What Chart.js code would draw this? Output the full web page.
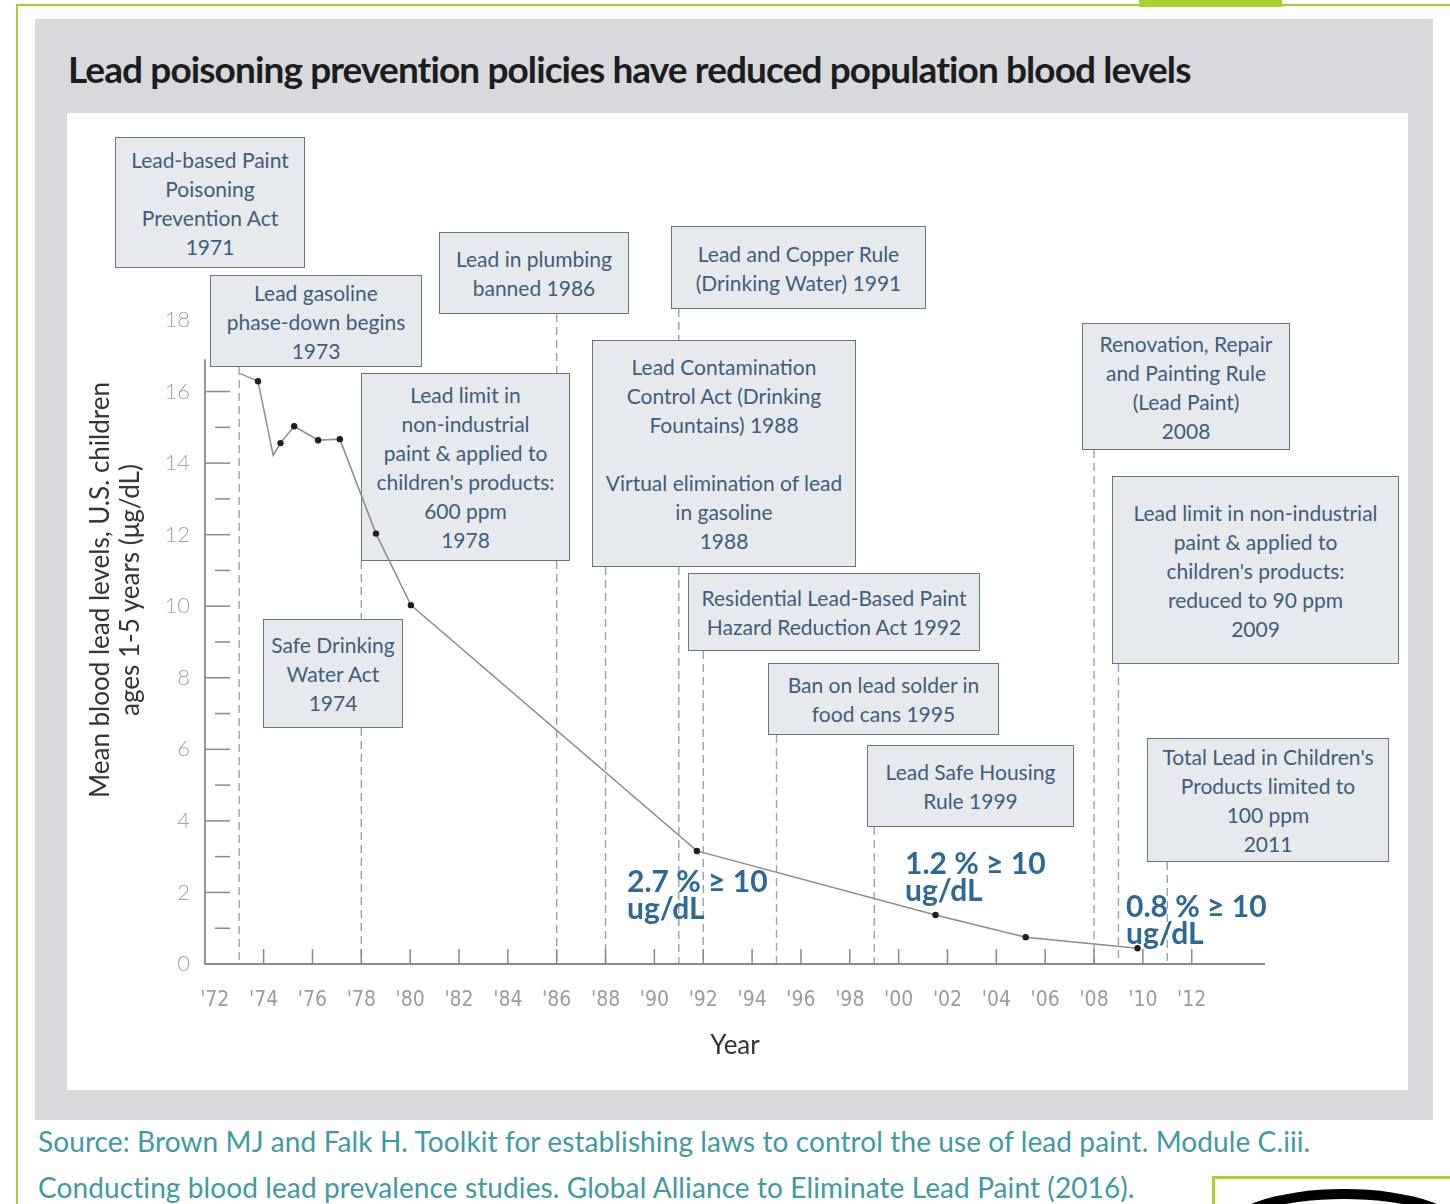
<!DOCTYPE html>
<html>
<head>
<meta charset="utf-8">
<script src="https://cdn.jsdelivr.net/npm/chart.js@4.4.1/dist/chart.umd.min.js"></script>
<style>
  body { margin: 0; width: 1450px; height: 1204px; position: relative; overflow: hidden; background: #fff; font-family: Lato, "Open Sans", sans-serif; }
  .abs { position: absolute; }
  .frame-left { left: 16px; top: 4px; width: 2px; height: 1200px; background: #a8d12e; }
  .frame-top { left: 16px; top: 4px; width: 1434px; height: 2px; background: #a8d12e; }
  .tab { left: 1139px; top: 0; width: 143px; height: 7px; background: #a8d12e; }
  .panel { left: 35px; top: 19px; width: 1398px; height: 1101px; background: #d8d9dc; }
  .plot { left: 67px; top: 113px; width: 1341px; height: 977px; background: #fff; }
  .title { left: 68px; top: 47px; font-size: 37px; line-height: 44px; font-weight: 700; color: #1d1d1f; white-space: nowrap; letter-spacing: -0.9px; }
  .ytitle { left: 114px; top: 590px; transform: translate(-50%, -50%) rotate(-90deg); font-size: 26px; line-height: 30px; color: #333; text-align: center; white-space: nowrap; z-index: 3; }
  .box { position: absolute; box-sizing: border-box; background: #e6e9ee; border: 1.5px solid #6d757e; color: #3f5d7c; font-size: 21px; line-height: 29px; text-align: center; display: flex; flex-direction: column; justify-content: center; white-space: nowrap; z-index: 1; }
  .note { position: absolute; font-size: 30px; line-height: 27px; font-weight: 700; color: #2c6996; white-space: nowrap; z-index: 3; }
  .source { left: 38px; top: 1118px; font-size: 28px; line-height: 46px; color: #3e9aa3; white-space: nowrap; letter-spacing: 0.1px; }
  #chart { position: absolute; left: 0; top: 0; z-index: 2; }
  .logo { left: 1212px; top: 1176px; width: 250px; height: 40px; border-top: 3px solid #a8d12e; border-left: 3px solid #a8d12e; background: #fff; overflow: hidden; z-index: 3; }
  .eye { left: 4px; top: 10px; width: 230px; height: 70px; border: 10px solid #000; border-radius: 50%; }
</style>
</head>
<body>
<div class="abs frame-left"></div>
<div class="abs frame-top"></div>
<div class="abs tab"></div>
<div class="abs panel"></div>
<div class="abs plot"></div>
<div class="abs title">Lead poisoning prevention policies have reduced population blood levels</div>
<div class="abs ytitle">Mean blood lead levels, U.S. children<br>ages 1-5 years (μg/dL)</div>
<div class="abs source">Source: Brown MJ and Falk H. Toolkit for establishing laws to control the use of lead paint. Module C.iii.<br>Conducting blood lead prevalence studies. Global Alliance to Eliminate Lead Paint (2016).</div>
<div class="abs logo"><div class="abs eye"></div></div>
<canvas id="chart" width="1450" height="1204"></canvas>
<script>
// survey means
var years = [1973.05, 1973.77, 1974.39, 1974.69, 1975.25, 1976.23, 1977.12, 1978.6, 1980.03, 1991.74, 2001.51, 2005.2, 2009.78];
var bloodLead = [16.5, 16.29, 14.22, 14.56, 15.03, 14.64, 14.67, 12.03, 10.03, 3.16, 1.37, 0.75, 0.44];
var surveyPoint = [false, true, false, true, true, true, true, true, true, true, true, true, true];
var tickYears = [1972, 1974, 1976, 1978, 1980, 1982, 1984, 1986, 1988, 1990, 1992, 1994, 1996, 1998, 2000, 2002, 2004, 2006, 2008, 2010, 2012];

// policies
var policyYears = [1971, 1973, 1986, 1991, 1978, 1988, 2008, 2009, 1992, 1974, 1995, 1999, 2011];
var policyText = [
  ["Lead-based Paint", "Poisoning", "Prevention Act", "1971"],
  ["Lead gasoline", "phase-down begins", "1973"],
  ["Lead in plumbing", "banned 1986"],
  ["Lead and Copper Rule", "(Drinking Water) 1991"],
  ["Lead limit in", "non-industrial", "paint & applied to", "children's products:", "600 ppm", "1978"],
  ["Lead Contamination", "Control Act (Drinking", "Fountains) 1988", "", "Virtual elimination of lead", "in gasoline", "1988"],
  ["Renovation, Repair", "and Painting Rule", "(Lead Paint)", "2008"],
  ["Lead limit in non-industrial", "paint & applied to", "children's products:", "reduced to 90 ppm", "2009"],
  ["Residential Lead-Based Paint", "Hazard Reduction Act 1992"],
  ["Safe Drinking", "Water Act", "1974"],
  ["Ban on lead solder in", "food cans 1995"],
  ["Lead Safe Housing", "Rule 1999"],
  ["Total Lead in Children's", "Products limited to", "100 ppm", "2011"]
];
var shareText = ["2.7 % \u2265 10", "1.2 % \u2265 10", "0.8 % \u2265 10"];

// layout: x, y, w, h (page px), dashed line below
var boxLayout = [
  [115, 137, 190, 131, false],
  [210, 275, 212, 92, true],
  [439, 232, 190, 82, true],
  [671, 226, 255, 83, true],
  [361, 373, 209, 188, true],
  [592, 340, 264, 227, true],
  [1082, 323, 208, 127, true],
  [1112, 476, 287, 188, true],
  [688, 573, 292, 78, true],
  [263, 619, 140, 109, false],
  [768, 663, 231, 72, true],
  [867, 745, 207, 82, true],
  [1147, 738, 242, 124, true]
];
var noteLayout = [[627, 867], [905, 849], [1126, 892]];

policyText.forEach(function (lines, i) {
  var b = boxLayout[i];
  var d = document.createElement('div');
  d.className = 'box';
  d.style.left = b[0] + 'px'; d.style.top = b[1] + 'px';
  d.style.width = b[2] + 'px'; d.style.height = b[3] + 'px';
  d.innerHTML = lines.map(function (t) { return '<div>' + (t || '&nbsp;') + '</div>'; }).join('');
  document.body.appendChild(d);
});
shareText.forEach(function (t, i) {
  var d = document.createElement('div');
  d.className = 'note';
  d.style.left = noteLayout[i][0] + 'px'; d.style.top = noteLayout[i][1] + 'px';
  d.innerHTML = t + '<br>ug/dL';
  document.body.appendChild(d);
});

var policyLines = {
  id: 'policyLines',
  beforeDatasetsDraw: function (chart) {
    var ctx = chart.ctx, x = chart.scales.x, y = chart.scales.y;
    var y0 = y.getPixelForValue(0);
    ctx.save();
    // dashed policy markers, hidden behind other boxes
    ctx.strokeStyle = '#9ba5a5';
    ctx.lineWidth = 1.4;
    ctx.setLineDash([8, 5]);
    function seg(px, a, b) {
      if (b <= a) return;
      ctx.beginPath(); ctx.moveTo(px, a); ctx.lineTo(px, b); ctx.stroke();
    }
    policyYears.forEach(function (yr, i) {
      var b = boxLayout[i];
      if (!b[4] || yr < x.min) return;
      var px = x.getPixelForValue(yr);
      var top = b[1] + b[3];
      var cuts = boxLayout.filter(function (o, j) {
        return j !== i && px > o[0] && px < o[0] + o[2] && o[1] + o[3] > top;
      }).map(function (o) { return [o[1], o[1] + o[3]]; })
        .sort(function (p, q) { return p[0] - q[0]; });
      cuts.forEach(function (c) { seg(px, top, Math.min(c[0], y0)); top = Math.max(top, c[1]); });
      seg(px, top, y0);
    });
    // axes with inside ticks
    ctx.setLineDash([]);
    ctx.strokeStyle = '#8a8a8a';
    ctx.lineWidth = 1.8;
    ctx.beginPath();
    ctx.moveTo(x.left, y.getPixelForValue(16.9));
    ctx.lineTo(x.left, y0);
    ctx.lineTo(x.right, y0);
    ctx.stroke();
    ctx.lineWidth = 1.5;
    y.ticks.forEach(function (t) {
      if (t.value <= 0 || t.value > 16) return;
      var py = y.getPixelForValue(t.value);
      ctx.beginPath();
      ctx.moveTo(t.value % 2 === 0 ? x.left : x.left + 10, py);
      ctx.lineTo(x.left + 25, py);
      ctx.stroke();
    });
    x.ticks.forEach(function (t) {
      if (t.value === tickYears[0]) return;
      var px = x.getPixelForValue(t.value);
      ctx.beginPath(); ctx.moveTo(px, y0); ctx.lineTo(px, y0 - 15); ctx.stroke();
    });
    ctx.restore();
  }
};

new Chart('chart', {
  type: 'line',
  data: {
    datasets: [{
      data: years.map(function (yr, i) { return { x: yr, y: bloodLead[i] }; }),
      borderColor: '#8c8c8c',
      borderWidth: 1.5,
      pointRadius: surveyPoint.map(function (s) { return s ? 3.2 : 0; }),
      pointBackgroundColor: '#1f1f1f',
      pointBorderWidth: 0,
      tension: 0
    }]
  },
  options: {
    responsive: false,
    animation: false,
    devicePixelRatio: 1,
    layout: { padding: { top: 320, right: 185, bottom: 130, left: 0 } },
    plugins: { legend: { display: false }, tooltip: { enabled: false } },
    scales: {
      x: {
        type: 'linear',
        min: 1971.6,
        max: 2015,
        afterBuildTicks: function (s) { s.ticks = tickYears.map(function (v) { return { value: v }; }); },
        afterFit: function (s) { s.height = 110; s.paddingLeft = 0; s.paddingRight = 0; },
        grid: { display: false, drawTicks: false },
        border: { display: false },
        ticks: {
          autoSkip: false, maxRotation: 0, padding: 24, color: '#9c9c9c',
          font: { family: "'Liberation Sans Narrow', 'DejaVu Sans Condensed', sans-serif", size: 21 },
          callback: function (v) { return "'" + String(v).slice(2); }
        },
        title: { display: true, text: 'Year', color: '#333', font: { family: 'Lato', size: 26 }, padding: { top: 0, bottom: 13 } }
      },
      y: {
        min: 0,
        max: 18,
        afterFit: function (s) { s.width = 205; s.paddingTop = 0; s.paddingBottom = 0; },
        grid: { display: false, drawTicks: false },
        border: { display: false },
        ticks: {
          stepSize: 1, padding: 15, color: '#a3a3a3',
          font: { family: 'Lato', size: 22, weight: '300' },
          callback: function (v) { return v % 2 === 0 ? v : ''; }
        }
      }
    }
  },
  plugins: [policyLines]
});
</script>
</body>
</html>
